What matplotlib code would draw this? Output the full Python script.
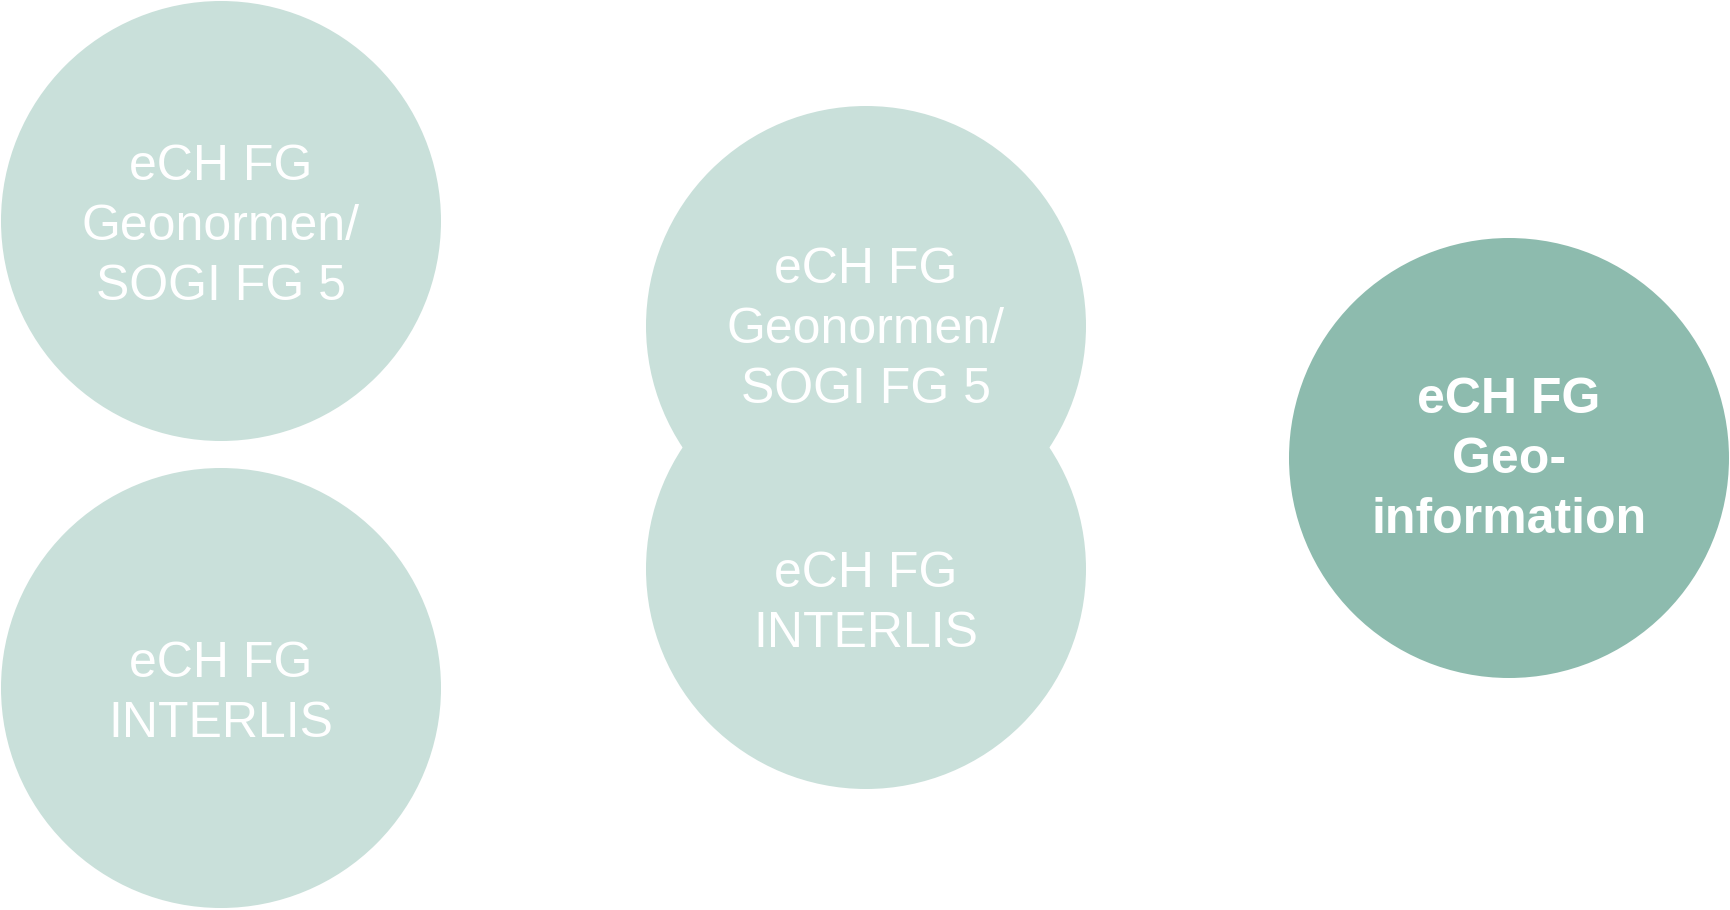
import matplotlib.pyplot as plt
from matplotlib.patches import Circle

# circles: centre x, centre y (pixels, y down), label lines
circle_x = [221, 221, 866, 866, 1509]
circle_y = [221, 688, 326, 569, 458]
circle_r = 220
labels = [
    ["eCH FG", "Geonormen/", "SOGI FG 5"],
    ["eCH FG", "INTERLIS"],
    ["eCH FG", "Geonormen/", "SOGI FG 5"],
    ["eCH FG", "INTERLIS"],
    ["eCH FG", "Geo-", "information"],
]
highlight = [False, False, False, False, True]
# baseline of first text line per circle
first_baseline = [180, 677, 283, 587, 413]

light = "#C9E0DA"
dark = "#8DBBAE"

fig = plt.figure(figsize=(17.31, 9.10), dpi=100)
ax = fig.add_axes([0, 0, 1, 1])
ax.set_xlim(0, 1731)
ax.set_ylim(910, 0)
ax.set_aspect("equal")
ax.axis("off")

for cx, cy, hl in zip(circle_x, circle_y, highlight):
    ax.add_patch(Circle((cx, cy), circle_r, facecolor=dark if hl else light,
                        edgecolor="none"))

for cx, lines, b0, hl in zip(circle_x, labels, first_baseline, highlight):
    for i, line in enumerate(lines):
        ax.text(cx, b0 + i * 60, line, ha="center", va="baseline",
                color="white", fontsize=36, family="Liberation Sans",
                fontweight="bold" if hl else "normal")

fig.savefig("out.png", dpi=100, facecolor="white")
